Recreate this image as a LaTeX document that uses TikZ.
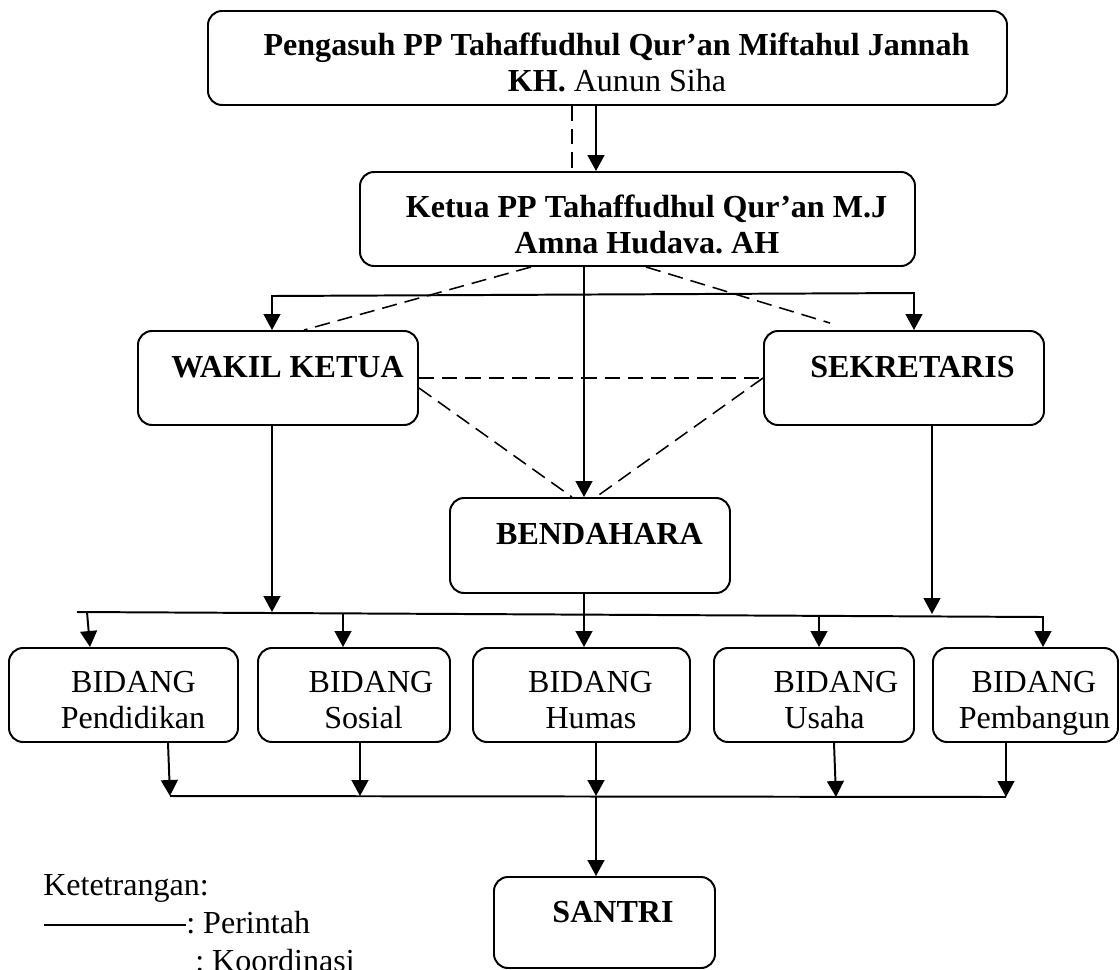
\documentclass[tikz,border=0pt]{standalone}
\usepackage{fontspec}
\setmainfont{Liberation Serif}
\frenchspacing
\usetikzlibrary{arrows.meta, calc, positioning}
\def\pxl{0.025cm}
\tikzset{
    box/.style 2 args={draw, rounded corners=0.35cm, line width=1.4pt, inner sep=0pt,
        minimum width=#1*\pxl, minimum height=#2*\pxl},
    lbl/.style={inner sep=0pt, anchor=base, font=\fontsize{22.8pt}{27pt}\selectfont},
    perintah/.style={line width=1.4pt},
    koordinasi/.style={line width=1.1pt, dash pattern=on 0.38cm off 0.2cm},
    arr/.style={-{Triangle[length=0.4cm, width=0.42cm]}},
    arrr/.style={{Triangle[length=0.4cm, width=0.42cm]}-{Triangle[length=0.4cm, width=0.42cm]}}
}

\begin{document}
\begin{tikzpicture}[x=\pxl, y=-\pxl]
    \clip (0,0) rectangle (1120,969);
    % kotak
    \node[box={799}{94}] (pengasuh) at (607.5,58) {};
    \node[box={555}{94}] (ketua) at (637.5,219) {};
    \node[box={280}{94}] (wakil) at (278,378) {};
    \node[box={280}{94}] (sekretaris) at (904,378) {};
    \node[box={280}{95}] (bendahara) at (590,545.5) {};
    \node[box={229}{94}] (pendidikan) at (123.5,695) {};
    \node[box={192}{94}] (sosial) at (354,695) {};
    \node[box={217}{94}] (humas) at (581.5,695) {};
    \node[box={200}{94}] (usaha) at (814,695) {};
    \node[box={185}{94}] (pembangun) at (1025.5,695) {};
    \node[box={221}{91}] (santri) at (604.5,922.5) {};
    % teks
    \node[lbl] (pengasuh-a) at (616.5,55) {\textbf{Pengasuh PP Tahaffudhul Qur’an Miftahul Jannah}};
    \node[lbl] (pengasuh-b) at (617,91) {\textbf{KH.} Aunun Siha};
    \node[lbl] (ketua-a) at (646.5,217) {\textbf{Ketua PP Tahaffudhul Qur’an M.J}};
    \node[lbl] (ketua-b) at (647,253) {\textbf{Amna Hudava. AH}};
    \node[lbl] (wakil-a) at (287.5,377) {\textbf{WAKIL KETUA}};
    \node[lbl] (sekretaris-a) at (912.5,377) {\textbf{SEKRETARIS}};
    \node[lbl] (bendahara-a) at (599.5,544) {\textbf{BENDAHARA}};
    \node[lbl] (pendidikan-a) at (133.5,692) {BIDANG};
    \node[lbl] (pendidikan-b) at (133,728) {Pendidikan};
    \node[lbl] (sosial-a) at (371,692) {BIDANG};
    \node[lbl] (sosial-b) at (363.5,728) {Sosial};
    \node[lbl] (humas-a) at (590.5,692) {BIDANG};
    \node[lbl] (humas-b) at (591,728) {Humas};
    \node[lbl] (usaha-a) at (836,692) {BIDANG};
    \node[lbl] (usaha-b) at (824.5,728) {Usaha};
    \node[lbl] (pembangun-a) at (1034,692) {BIDANG};
    \node[lbl] (pembangun-b) at (1034.5,728) {Pembangun};
    \node[lbl] (santri-a) at (613,922) {\textbf{SANTRI}};
    % titik bantu
    \coordinate (dv) at (572,0);
    \coordinate (sv) at (596,0);
    \coordinate (kl) at (272,296);
    \coordinate (kr) at (914,293);
    \coordinate (kb) at (584,0);
    \coordinate (a1) at (77,612);
    \coordinate (a2) at (1043,617);
    \coordinate (a3) at (87,612);
    \coordinate (a4) at (343,613);
    \coordinate (a5) at (819,616);
    \coordinate (a6) at (932,614);
    \coordinate (c1) at (170,796);
    \coordinate (c2) at (360,796);
    \coordinate (c3) at (596,796);
    \coordinate (c4) at (836,797);
    \coordinate (c5) at (1006,797);
    % garis atas
    \draw[koordinasi] (pengasuh.south -| dv) -- (ketua.north -| dv);
    \draw[perintah, arr] (pengasuh.south -| sv) -- (ketua.north -| sv);
    \draw[perintah, arrr] (wakil.north -| kl) -- (kl) -- (kr) -- (sekretaris.north -| kr);
    \draw[perintah, arr] (ketua.south -| kb) -- (bendahara.north -| kb);
    \draw[koordinasi] ($(ketua.south)+(-106.5,0)$) -- ($(wakil.north)+(26,0)$);
    \draw[koordinasi] ($(ketua.south)+(8.5,0)$) -- ($(sekretaris.north)+(-74,-7)$);
    \draw[koordinasi] (wakil.east) -- (sekretaris.west);
    \draw[koordinasi] ($(wakil.east)+(0,10)$) -- ($(bendahara.north)+(-18,0)$);
    \draw[koordinasi] (sekretaris.west) -- ($(bendahara.north)+(6,0)$);
    % ke bidang
    \draw[perintah, arr] (wakil.south -| kl) -- (kl |- a1);
    \draw[perintah, arr] (sekretaris.south -| a6) -- (a6);
    \draw[perintah, arr] (a1) -- (a2) -- (pembangun.north -| a2);
    \draw[perintah, arr] (a3) -- ($(pendidikan.north)+(-33.5,0)$);
    \draw[perintah, arr] (a4) -- (sosial.north -| a4);
    \draw[perintah, arr] (bendahara.south -| kb) -- (humas.north -| kb);
    \draw[perintah, arr] (a5) -- (usaha.north -| a5);
    % ke santri
    \draw[perintah, arr] ($(pendidikan.south)+(44.5,0)$) -- (c1);
    \draw[perintah, arr] (sosial.south -| c2) -- (c2);
    \draw[perintah, arr] (humas.south -| c3) -- (c3);
    \draw[perintah, arr] ($(usaha.south)+(20,0)$) -- (c4);
    \draw[perintah, arr] (pembangun.south -| c5) -- (c5);
    \draw[perintah] (c1) -- (c5);
    \draw[perintah, arr] (c3) -- (santri.north -| c3);
    % keterangan
    \node[lbl, anchor=base west] (ket) at (43,895) {Ketetrangan:};
    \node[lbl, anchor=base west] (lg-p) at (186,933) {: Perintah};
    \node[lbl, anchor=base west] (lg-k) at (195,971) {: Koordinasi};
    \coordinate (lg) at (44,925);
    \draw[perintah, line width=1pt] (lg) -- (lg -| lg-p.west);
\end{tikzpicture}
\end{document}
